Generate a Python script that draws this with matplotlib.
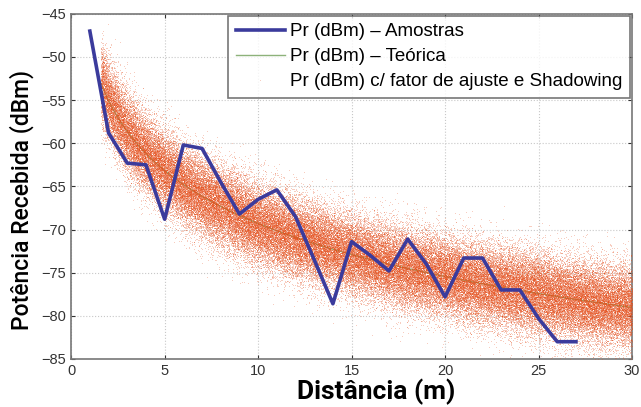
import numpy as np
import matplotlib
matplotlib.use("Agg")
import matplotlib.pyplot as plt

plt.rcParams['font.family'] = ['Roboto', 'DejaVu Sans']

# Measured samples
dist_samples = [1, 2, 3, 4, 5, 6, 7, 8, 9, 10, 11, 12, 13, 14, 15, 16, 17, 18, 19, 20,
                21, 22, 23, 24, 25, 26, 27]
pr_samples = [-47.0, -58.8, -62.3, -62.5, -68.8, -60.2, -60.6, -64.5, -68.2, -66.5, -65.4,
              -68.5, -73.5, -78.6, -71.4, -73.0, -74.8, -71.1, -74.0, -77.8, -73.3, -73.3,
              -77.0, -77.0, -80.3, -83.0, -83.0]

# Log-distance model parameters read from the cloud
pr_ref_dbm = -48.9      # Pr at 1 m
path_loss_exp = 2.04
shadow_sigma_db = 2.3
d_min, d_max = 1.6, 30.0

# Theoretical curve
d_theory = np.linspace(d_min, d_max, 300)
pr_theory = pr_ref_dbm - 10 * path_loss_exp * np.log10(d_theory)

# Shadowing cloud (seeded)
rng = np.random.default_rng(7)
n_pts = 110000
d_cloud = rng.uniform(d_min, d_max, n_pts)
pr_cloud = pr_ref_dbm - 10 * path_loss_exp * np.log10(d_cloud) + rng.normal(0, shadow_sigma_db, n_pts)

fig = plt.figure(figsize=(6.41, 4.07), dpi=100)
ax = fig.add_axes([0.111, 0.118, 0.875, 0.848])

ax.plot(dist_samples, pr_samples, color='#3b3b9c', lw=2.6, label='Pr (dBm) – Amostras', zorder=4)
ax.plot(d_theory, pr_theory, color='#8db27a', lw=1.0, label='Pr (dBm) – Teórica', zorder=1)
ax.plot(d_cloud, pr_cloud, ls='none', marker='.', ms=0.8, mew=0, color='#e6501c', alpha=0.62,
        label='Pr (dBm) c/ fator de ajuste e Shadowing', zorder=3)

ax.set_xlim(0, 30)
ax.set_ylim(-85, -45)
ax.set_xticks([0, 5, 10, 15, 20, 25, 30])
ax.set_yticks(range(-85, -44, 5))
ax.tick_params(labelsize=10.5, colors='#333333', direction='in', length=3,
               top=True, right=True)
for lab in ax.get_xticklabels() + ax.get_yticklabels():
    lab.set_family(['Liberation Sans', 'DejaVu Sans'])
ax.grid(True, ls=':', color='#c8c8c8', lw=0.8)
for s in ax.spines.values():
    s.set_color('#777777')
    s.set_linewidth(1.2)

ax.set_xlabel('Distância (m)', fontsize=19, fontweight='bold')
ax.set_ylabel('Potência Recebida (dBm)', fontsize=16.5, fontweight='medium')
ax.xaxis.set_label_coords(0.544, -0.058)
ax.yaxis.set_label_coords(-0.066, 0.46)

leg = ax.legend(loc='upper right', handlelength=2.6, frameon=True, fancybox=False,
                borderpad=0.4, labelspacing=0.42, handletextpad=0.3, borderaxespad=0.1,
                prop={'family': ['Liberation Sans', 'DejaVu Sans'], 'size': 13.5})
leg.get_frame().set_edgecolor('#555555')
leg.get_frame().set_linewidth(1.2)

fig.savefig('out.png', dpi=100)
